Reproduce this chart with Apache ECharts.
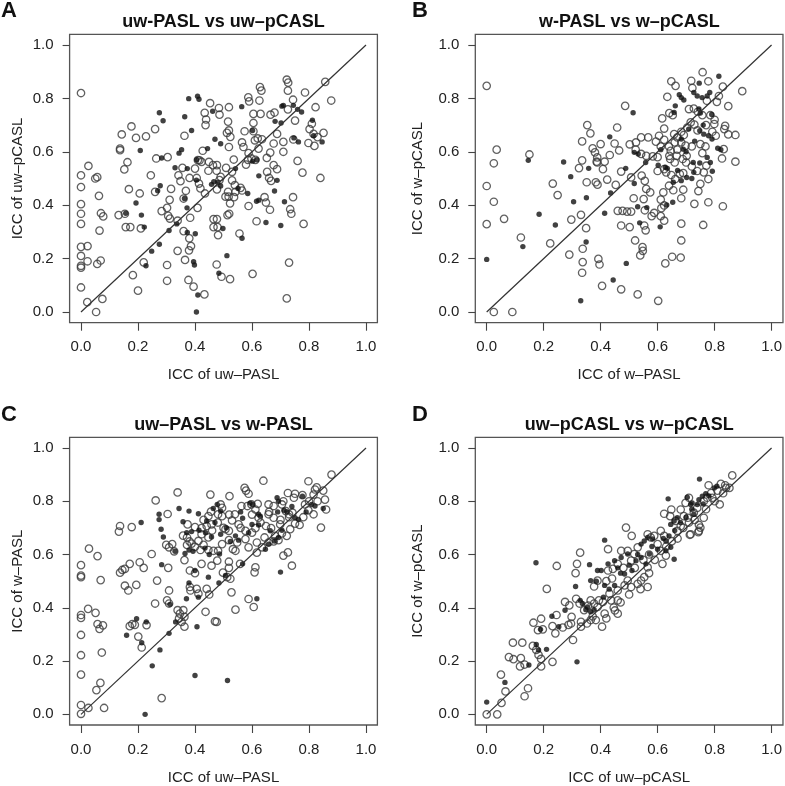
<!DOCTYPE html>
<html>
<head>
<meta charset="utf-8">
<script src="https://cdn.jsdelivr.net/npm/echarts@6/dist/echarts.min.js"></script>
<style>html,body{margin:0;padding:0;background:#fff}#c{width:785px;height:786px}</style>
</head>
<body>
<div id="c"></div>
<script>
const ticks = [0, 0.2, 0.4, 0.6, 0.8, 1.0];
const identityLine = [[0, 0], [1, 1]];
const panelLetters = ['A', 'B', 'C', 'D'];
const panelTitles = ['uw-PASL vs uw\u2013pCASL', 'w-PASL vs w\u2013pCASL', 'uw\u2013PASL vs w-PASL', 'uw\u2013pCASL vs w\u2013pCASL'];
const xNames = ['ICC of uw\u2013PASL', 'ICC of w\u2013PASL', 'ICC of uw\u2013PASL', 'ICC of uw\u2013pCASL'];
const yNames = ['ICC of uw\u2013pCASL', 'ICC of w\u2013pCASL', 'ICC of w\u2013PASL', 'ICC of w\u2013pCASL'];

const aOpen = [[0,0.82],[0.026,0.547],[0,0.512],[0.05,0.50],[0.057,0.505],[0,0.468],[0.063,0.435],[0,0.404],[0,0.368],[0.07,0.37],[0.078,0.358],[0,0.33],[0.065,0.305],[0,0.244],[0.023,0.247],[0,0.21],[0.023,0.19],[0,0.173],[0,0.166],[0.057,0.18],[0.069,0.193],[0,0.092],[0.022,0.037],[0.075,0.049],[0.053,0.0],
[0.143,0.665],[0.177,0.695],[0.137,0.612],[0.137,0.606],[0.193,0.652],[0.228,0.658],[0.26,0.685],[0.163,0.561],[0.152,0.534],[0.245,0.512],[0.264,0.575],[0.304,0.58],[0.168,0.46],[0.206,0.444],[0.132,0.363],[0.154,0.368],[0.157,0.318],[0.173,0.318],[0.21,0.313],[0.26,0.45],[0.316,0.461],[0.311,0.42],[0.302,0.39],[0.283,0.378],[0.306,0.36],[0.312,0.35],[0.339,0.342],[0.22,0.186],[0.182,0.138],[0.2,0.08],[0.302,0.176],[0.302,0.117],[0.339,0.229],
[0.342,0.512],[0.349,0.49],[0.356,0.54],[0.381,0.502],[0.363,0.66],[0.453,0.782],[0.434,0.746],[0.439,0.721],[0.437,0.70],[0.427,0.604],[0.41,0.569],[0.423,0.562],[0.416,0.568],[0.449,0.562],[0.447,0.529],[0.463,0.55],[0.4,0.537],[0.406,0.502],[0.414,0.481],[0.419,0.463],[0.435,0.444],[0.368,0.454],[0.36,0.425],[0.383,0.353],[0.409,0.39],[0.36,0.303],[0.38,0.276],[0.386,0.247],[0.379,0.231],[0.365,0.195],[0.377,0.12],[0.395,0.095],[0.433,0.066],[0.465,0.348],[0.465,0.318],
[0.722,0.87],[0.727,0.859],[0.726,0.829],[0.857,0.862],[0.628,0.842],[0.633,0.829],[0.786,0.822],[0.878,0.792],[0.744,0.795],[0.823,0.767],[0.587,0.804],[0.59,0.789],[0.626,0.792],[0.519,0.767],[0.484,0.764],[0.486,0.739],[0.516,0.713],[0.605,0.742],[0.63,0.742],[0.605,0.708],[0.665,0.739],[0.679,0.747],[0.751,0.717],[0.726,0.759],[0.81,0.705],[0.802,0.685],[0.816,0.667],[0.83,0.655],[0.851,0.671],[0.798,0.633],[0.819,0.622],[0.745,0.646],[0.71,0.637],[0.688,0.667],[0.605,0.677],[0.574,0.677],[0.635,0.647],[0.62,0.65],[0.61,0.643],[0.565,0.635],[0.57,0.618],[0.519,0.68],[0.512,0.671],[0.524,0.656],[0.519,0.618],[0.676,0.631],[0.664,0.597],[0.652,0.577],[0.71,0.6],[0.588,0.595],[0.598,0.575],[0.612,0.57],[0.623,0.612],[0.579,0.552],[0.586,0.57],[0.536,0.571],[0.76,0.566],[0.777,0.522],[0.84,0.502],[0.676,0.55],[0.688,0.535],[0.653,0.525],[0.66,0.502],[0.667,0.491],[0.477,0.55],[0.476,0.529],[0.509,0.54],[0.53,0.525],[0.49,0.506],[0.486,0.494],[0.53,0.493],[0.54,0.475],[0.477,0.459],[0.56,0.465],[0.565,0.455],[0.516,0.45],[0.518,0.432],[0.507,0.432],[0.523,0.407],[0.537,0.43],[0.542,0.45],[0.588,0.397],[0.644,0.43],[0.649,0.41],[0.663,0.383],[0.744,0.43],[0.734,0.385],[0.738,0.368],[0.514,0.363],[0.52,0.368],[0.477,0.348],[0.479,0.318],[0.481,0.288],[0.616,0.34],[0.781,0.33],[0.556,0.294],[0.476,0.178],[0.493,0.132],[0.523,0.123],[0.602,0.143],[0.73,0.185],[0.722,0.051]];
const aFilled = [[0.208,0.605],[0.283,0.577],[0.275,0.746],[0.288,0.716],[0.193,0.408],[0.157,0.37],[0.212,0.363],[0.222,0.318],[0.269,0.454],[0.278,0.473],[0.309,0.305],[0.336,0.33],[0.248,0.228],[0.275,0.254],[0.228,0.173],[0.33,0.54],[0.344,0.595],[0.353,0.608],[0.373,0.537],[0.388,0.68],[0.364,0.731],[0.378,0.799],[0.409,0.808],[0.414,0.797],[0.462,0.752],[0.47,0.647],[0.444,0.612],[0.406,0.57],[0.405,0.494],[0.458,0.478],[0.466,0.488],[0.363,0.425],[0.372,0.39],[0.373,0.298],[0.401,0.293],[0.395,0.188],[0.398,0.176],[0.41,0.064],[0.405,0.0],
[0.564,0.769],[0.705,0.771],[0.71,0.774],[0.681,0.714],[0.702,0.708],[0.745,0.774],[0.76,0.759],[0.774,0.749],[0.812,0.718],[0.816,0.66],[0.846,0.637],[0.747,0.652],[0.763,0.637],[0.602,0.68],[0.49,0.63],[0.602,0.565],[0.617,0.57],[0.624,0.51],[0.688,0.493],[0.679,0.453],[0.542,0.537],[0.551,0.463],[0.585,0.444],[0.616,0.415],[0.624,0.419],[0.714,0.413],[0.498,0.313],[0.649,0.335],[0.701,0.324],[0.565,0.276],[0.512,0.211],[0.484,0.145],[0.48,0.485],[0.49,0.472]];

const bOpen = [[0,0.847],[0.035,0.608],[0.025,0.557],[0,0.472],[0.025,0.413],[0,0.329],[0.061,0.349],[0.025,0],[0.09,0],[0.12,0.279],[0.15,0.59],[0.223,0.257],[0.232,0.481],[0.249,0.438],[0.29,0.215],[0.297,0.346],[0.331,0.364],[0.335,0.639],[0.353,0.7],[0.364,0.669],[0.372,0.613],[0.38,0.598],[0.335,0.568],[0.324,0.539],[0.386,0.563],[0.351,0.486],[0.383,0.486],[0.389,0.477],[0.349,0.314],[0.337,0.237],[0.337,0.187],[0.335,0.147],[0.392,0.199],[0.396,0.178],[0.388,0.579],[0.388,0.56],
[0.758,0.898],[0.648,0.864],[0.663,0.847],[0.718,0.866],[0.722,0.839],[0.778,0.864],[0.829,0.844],[0.897,0.827],[0.634,0.806],[0.773,0.791],[0.808,0.787],[0.815,0.809],[0.848,0.771],[0.486,0.772],[0.653,0.737],[0.641,0.745],[0.616,0.725],[0.727,0.762],[0.741,0.75],[0.757,0.737],[0.785,0.737],[0.716,0.71],[0.729,0.702],[0.704,0.691],[0.683,0.675],[0.692,0.663],[0.623,0.687],[0.658,0.666],[0.458,0.691],[0.799,0.704],[0.837,0.697],[0.834,0.685],[0.848,0.665],[0.873,0.663],[0.792,0.675],[0.804,0.66],[0.832,0.61],[0.75,0.629],[0.768,0.62],[0.669,0.654],[0.683,0.635],[0.698,0.623],[0.66,0.635],[0.669,0.608],[0.646,0.604],[0.641,0.585],[0.605,0.66],[0.594,0.638],[0.567,0.654],[0.542,0.654],[0.524,0.635],[0.502,0.628],[0.523,0.608],[0.542,0.592],[0.56,0.585],[0.583,0.583],[0.611,0.62],[0.623,0.645],[0.449,0.631],[0.465,0.605],[0.432,0.588],[0.408,0.535],[0.4,0.629],[0.423,0.496],[0.453,0.476],[0.472,0.526],[0.6,0.528],[0.623,0.535],[0.644,0.573],[0.667,0.585],[0.688,0.573],[0.702,0.585],[0.63,0.523],[0.648,0.513],[0.662,0.498],[0.678,0.517],[0.64,0.473],[0.655,0.456],[0.72,0.545],[0.739,0.528],[0.762,0.523],[0.757,0.595],[0.771,0.548],[0.826,0.575],[0.873,0.563],[0.778,0.498],[0.743,0.453],[0.778,0.411],[0.829,0.396],[0.729,0.405],[0.76,0.326],[0.683,0.426],[0.69,0.458],[0.62,0.448],[0.611,0.421],[0.623,0.399],[0.613,0.389],[0.683,0.331],[0.683,0.268],[0.651,0.207],[0.681,0.204],[0.627,0.182],[0.602,0.042],[0.53,0.066],[0.472,0.085],[0.405,0.098],[0.547,0.243],[0.548,0.229],[0.539,0.212],[0.521,0.268],[0.553,0.324],[0.558,0.306],[0.472,0.324],[0.502,0.318],[0.46,0.379],[0.477,0.379],[0.493,0.376],[0.507,0.376],[0.516,0.426],[0.551,0.423],[0.555,0.381],[0.579,0.359],[0.588,0.371],[0.611,0.359],[0.623,0.342],[0.544,0.511],[0.555,0.491],[0.56,0.461],[0.574,0.448],[0.507,0.504],[0.414,0.563],
[0.66,0.56],[0.7,0.56],[0.72,0.62],[0.74,0.68],[0.77,0.7],[0.8,0.72],[0.71,0.76],[0.64,0.62],[0.6,0.58],[0.69,0.52],[0.75,0.48]];
const bFilled = [[0,0.197],[0.127,0.245],[0.146,0.568],[0.184,0.366],[0.241,0.326],[0.27,0.562],[0.295,0.507],[0.305,0.413],[0.358,0.538],[0.35,0.428],[0.349,0.262],[0.33,0.042],
[0.815,0.883],[0.746,0.857],[0.676,0.814],[0.683,0.803],[0.692,0.794],[0.727,0.822],[0.739,0.809],[0.756,0.803],[0.774,0.809],[0.783,0.822],[0.514,0.746],[0.662,0.772],[0.658,0.747],[0.745,0.76],[0.75,0.745],[0.709,0.685],[0.748,0.679],[0.762,0.666],[0.779,0.66],[0.791,0.648],[0.811,0.613],[0.822,0.608],[0.683,0.648],[0.69,0.61],[0.518,0.598],[0.532,0.592],[0.611,0.608],[0.432,0.656],[0.488,0.538],[0.558,0.56],[0.602,0.55],[0.627,0.542],[0.634,0.538],[0.655,0.486],[0.683,0.492],[0.702,0.504],[0.725,0.56],[0.727,0.523],[0.748,0.558],[0.774,0.579],[0.785,0.56],[0.792,0.527],[0.653,0.411],[0.632,0.401],[0.444,0.12],[0.49,0.182],[0.537,0.334],[0.609,0.319],[0.414,0.37],[0.53,0.394],[0.562,0.391],[0.518,0.481],[0.435,0.446],
[0.7,0.6],[0.73,0.64],[0.76,0.7],[0.79,0.74],[0.67,0.53],[0.72,0.5]];

const cOpen = [[0.339,0.833],[0.262,0.803],[0.454,0.825],[0.304,0.752],[0.137,0.707],[0.133,0.686],[0.178,0.703],[0.248,0.602],[0.299,0.636],[0.309,0.627],[0.32,0.639],[0.327,0.612],[0.306,0.55],[0.028,0.622],[0.058,0.594],[0,0.56],[0,0.521],[0,0.515],[0.069,0.504],[0.137,0.532],[0.145,0.542],[0.154,0.546],[0.171,0.565],[0.206,0.571],[0.22,0.55],[0.154,0.483],[0.166,0.465],[0.194,0.486],[0.267,0.502],[0.309,0.465],[0.302,0.428],[0.309,0.416],[0.26,0.416],[0.025,0.396],[0,0.373],[0,0.362],[0.051,0.381],[0.058,0.339],[0.065,0.321],[0.077,0.334],[0,0.298],[0,0.222],[0.073,0.232],[0,0.149],[0.068,0.118],[0.054,0.091],[0,0.035],[0.026,0.024],[0,0.002],[0.081,0.024],[0.283,0.061],[0.171,0.331],[0.18,0.339],[0.189,0.336],[0.201,0.292],[0.213,0.251],[0.23,0.335],[0.339,0.391],[0.347,0.378],[0.359,0.391],[0.363,0.366],[0.344,0.36],[0.353,0.347],[0.363,0.329],[0.437,0.385],[0.47,0.349],[0.382,0.478],[0.384,0.465],[0.406,0.471],[0.412,0.453],[0.441,0.471],[0.45,0.45],[0.382,0.54],[0.4,0.53],[0.423,0.565],[0.458,0.558],[0.363,0.579],[0.372,0.636],[0.388,0.641],[0.4,0.629],[0.419,0.617],[0.43,0.636],[0.447,0.617],[0.465,0.614],[0.358,0.671],[0.372,0.664],[0.381,0.649],[0.412,0.651],[0.423,0.676],[0.447,0.664],[0.374,0.713],[0.4,0.703],[0.423,0.699],[0.441,0.707],[0.458,0.713],[0.447,0.744],[0.456,0.761],
[0.64,0.877],[0.879,0.9],[0.798,0.875],[0.574,0.85],[0.579,0.84],[0.588,0.828],[0.521,0.819],[0.726,0.831],[0.751,0.828],[0.747,0.813],[0.777,0.823],[0.821,0.844],[0.827,0.852],[0.816,0.825],[0.85,0.84],[0.856,0.806],[0.86,0.769],[0.786,0.788],[0.798,0.766],[0.816,0.751],[0.842,0.701],[0.767,0.711],[0.751,0.716],[0.742,0.757],[0.73,0.751],[0.719,0.763],[0.705,0.788],[0.676,0.782],[0.658,0.788],[0.612,0.769],[0.598,0.788],[0.563,0.782],[0.584,0.782],[0.49,0.788],[0.495,0.775],[0.481,0.751],[0.495,0.744],[0.53,0.728],[0.54,0.751],[0.519,0.689],[0.507,0.695],[0.553,0.713],[0.577,0.689],[0.6,0.682],[0.612,0.699],[0.623,0.738],[0.658,0.751],[0.676,0.738],[0.649,0.707],[0.667,0.699],[0.681,0.67],[0.705,0.679],[0.722,0.67],[0.734,0.695],[0.699,0.713],[0.644,0.664],[0.617,0.645],[0.588,0.627],[0.577,0.658],[0.548,0.645],[0.519,0.654],[0.495,0.639],[0.481,0.614],[0.635,0.627],[0.658,0.645],[0.676,0.649],[0.693,0.654],[0.617,0.607],[0.71,0.596],[0.726,0.608],[0.74,0.558],[0.612,0.552],[0.609,0.533],[0.588,0.433],[0.606,0.403],[0.528,0.458],[0.542,0.393],[0.476,0.347],[0.558,0.565],[0.519,0.573],[0.519,0.55],[0.498,0.532],[0.513,0.515],[0.524,0.509],[0.533,0.62],[0.542,0.614],[0.478,0.577],
[0.5,0.7],[0.52,0.75],[0.56,0.7],[0.6,0.75],[0.63,0.72],[0.66,0.76],[0.7,0.73],[0.73,0.74],[0.78,0.74],[0.8,0.8],[0.83,0.8],[0.46,0.69],[0.48,0.72],[0.43,0.73],[0.62,0.79],[0.71,0.8]];
const cFilled = [[0.344,0.773],[0.379,0.763],[0.274,0.751],[0.274,0.731],[0.211,0.72],[0.281,0.695],[0.289,0.666],[0.33,0.612],[0.283,0.562],[0.312,0.413],[0.225,0],[0.25,0.182],[0.277,0.242],[0.195,0.359],[0.16,0.297],[0.213,0.269],[0.229,0.347],[0.309,0.304],[0.332,0.347],[0.407,0.329],[0.4,0.146],[0.37,0.434],[0.379,0.493],[0.412,0.44],[0.4,0.54],[0.447,0.515],[0.365,0.604],[0.379,0.617],[0.393,0.612],[0.435,0.624],[0.371,0.682],[0.388,0.686],[0.414,0.691],[0.437,0.682],[0.458,0.666],[0.358,0.723],[0.412,0.753],[0.441,0.726],[0.464,0.773],
[0.688,0.813],[0.693,0.8],[0.777,0.819],[0.809,0.788],[0.821,0.782],[0.85,0.773],[0.751,0.738],[0.763,0.732],[0.712,0.766],[0.722,0.761],[0.629,0.744],[0.623,0.751],[0.593,0.793],[0.602,0.788],[0.567,0.736],[0.478,0.788],[0.49,0.763],[0.542,0.67],[0.588,0.682],[0.6,0.713],[0.623,0.711],[0.664,0.689],[0.693,0.664],[0.705,0.691],[0.679,0.651],[0.553,0.654],[0.524,0.649],[0.49,0.676],[0.647,0.62],[0.658,0.639],[0.7,0.534],[0.617,0.434],[0.514,0.127],[0.567,0.565],[0.507,0.521],[0.484,0.493],[0.486,0.602],
[0.47,0.72],[0.51,0.7],[0.56,0.76],[0.69,0.76],[0.74,0.78],[0.79,0.76],[0.45,0.6]];

const dOpen = [[0,0],[0.037,0],[0.052,0.043],[0.066,0.086],[0.05,0.149],[0.133,0.068],[0.145,0.098],[0.078,0.215],[0.094,0.207],[0.092,0.269],[0.125,0.269],[0.12,0.211],[0.117,0.18],[0.133,0.187],[0.164,0.344],[0.191,0.359],[0.18,0.316],[0.197,0.319],[0.162,0.257],[0.174,0.242],[0.182,0.223],[0.191,0.208],[0.191,0.18],[0.231,0.197],[0.246,0.557],[0.211,0.471],[0.245,0.373],[0.231,0.331],[0.241,0.304],[0.267,0.326],[0.275,0.422],[0.29,0.409],[0.298,0.366],[0.287,0.336],[0.296,0.341],[0.303,0.279],[0.328,0.607],[0.317,0.565],[0.312,0.53],[0.314,0.434],[0.326,0.416],[0.331,0.347],[0.331,0.329],[0.342,0.391],[0.365,0.428],[0.356,0.408],[0.377,0.416],[0.389,0.403],[0.352,0.341],[0.365,0.354],[0.383,0.354],[0.372,0.368],[0.377,0.48],[0.389,0.502],[0.394,0.428],
[0.862,0.897],[0.852,0.85],[0.837,0.86],[0.822,0.865],[0.779,0.86],[0.788,0.831],[0.792,0.813],[0.818,0.788],[0.774,0.813],[0.762,0.8],[0.739,0.775],[0.727,0.757],[0.762,0.738],[0.745,0.711],[0.745,0.689],[0.716,0.676],[0.71,0.813],[0.698,0.794],[0.681,0.769],[0.692,0.744],[0.706,0.738],[0.648,0.769],[0.623,0.753],[0.644,0.744],[0.663,0.726],[0.681,0.707],[0.669,0.689],[0.489,0.701],[0.509,0.67],[0.426,0.62],[0.565,0.676],[0.576,0.664],[0.588,0.67],[0.611,0.689],[0.623,0.67],[0.6,0.639],[0.611,0.614],[0.629,0.596],[0.617,0.565],[0.713,0.674],[0.743,0.684],[0.75,0.701],[0.53,0.627],[0.518,0.602],[0.507,0.577],[0.495,0.614],[0.472,0.614],[0.46,0.565],[0.443,0.546],[0.426,0.54],[0.565,0.552],[0.553,0.515],[0.565,0.478],[0.542,0.502],[0.53,0.49],[0.495,0.502],[0.507,0.478],[0.484,0.484],[0.46,0.465],[0.431,0.453],[0.437,0.428],[0.408,0.422],[0.46,0.428],[0.446,0.401],[0.46,0.378],[0.414,0.378],[0.405,0.329],
[0.42,0.5],[0.44,0.51],[0.48,0.55],[0.52,0.55],[0.55,0.58],[0.57,0.6],[0.59,0.58],[0.63,0.63],[0.65,0.65],[0.67,0.66],[0.69,0.7],[0.71,0.72],[0.73,0.73],[0.77,0.77],[0.8,0.8],[0.83,0.83],[0.84,0.85],[0.81,0.84],[0.5,0.45],[0.54,0.47],[0.45,0.39],[0.42,0.36],[0.47,0.42],[0.57,0.53]];
const dFilled = [[0,0.046],[0.064,0.12],[0.148,0.185],[0.189,0.319],[0.174,0.262],[0.182,0.242],[0.21,0.244],[0.173,0.569],[0.229,0.368],[0.253,0.329],[0.275,0.391],[0.317,0.197],[0.312,0.48],[0.361,0.562],[0.328,0.428],[0.336,0.416],[0.354,0.403],[0.348,0.393],[0.365,0.385],[0.377,0.393],[0.365,0.502],[0.385,0.5],[0.389,0.54],
[0.808,0.856],[0.799,0.85],[0.747,0.883],[0.769,0.828],[0.757,0.819],[0.745,0.806],[0.739,0.788],[0.721,0.794],[0.704,0.815],[0.716,0.788],[0.727,0.751],[0.637,0.809],[0.669,0.738],[0.658,0.726],[0.646,0.713],[0.414,0.654],[0.565,0.664],[0.582,0.658],[0.553,0.651],[0.542,0.639],[0.629,0.651],[0.646,0.627],[0.629,0.614],[0.64,0.67],[0.658,0.582],[0.495,0.602],[0.472,0.589],[0.449,0.577],[0.426,0.565],[0.402,0.54],[0.524,0.577],[0.542,0.589],[0.559,0.565],[0.571,0.602],[0.484,0.527],[0.449,0.484],[0.414,0.484],
[0.46,0.55],[0.47,0.53],[0.5,0.56],[0.51,0.54],[0.53,0.6],[0.58,0.63],[0.6,0.62],[0.62,0.66],[0.66,0.69],[0.68,0.72],[0.7,0.74],[0.72,0.77],[0.76,0.79],[0.78,0.82],[0.41,0.44],[0.43,0.47]];

const openSets = [aOpen, bOpen, cOpen, dOpen];
const filledSets = [aFilled, bFilled, cFilled, dFilled];

const FONT = 'Liberation Sans, Arial, Helvetica, sans-serif';
const grids = [
  {left: 69.6, top: 34.3, width: 307.8, height: 288.4},
  {left: 475.3, top: 34.3, width: 308, height: 288.4},
  {left: 69.6, top: 437.3, width: 307.8, height: 290},
  {left: 475.3, top: 437.3, width: 308, height: 290}
];
const yNameGap = [44, 50, 44, 50];

const option = {
  animation: false,
  backgroundColor: '#fff',
  grid: grids.map(g => Object.assign({show: true, borderColor: '#555', borderWidth: 1.3, backgroundColor: 'transparent', containLabel: false}, g)),
  xAxis: grids.map((g, i) => ({
    gridIndex: i, type: 'value', min: -0.04, max: 1.04, position: 'bottom',
    splitLine: {show: false}, axisLine: {show: false, onZero: false},
    axisTick: {show: true, inside: false, length: 8, customValues: ticks, lineStyle: {color: '#444', width: 1.1}},
    axisLabel: {customValues: ticks, formatter: v => v.toFixed(1), fontSize: 15, margin: 17, color: '#222', fontFamily: FONT},
    name: xNames[i], nameLocation: 'middle', nameGap: 45,
    nameTextStyle: {fontSize: 15, color: '#222', fontFamily: FONT}
  })),
  yAxis: grids.map((g, i) => ({
    gridIndex: i, type: 'value', min: -0.04, max: 1.04, position: 'left',
    splitLine: {show: false}, axisLine: {show: false, onZero: false},
    axisTick: {show: true, inside: false, length: 7, customValues: ticks, lineStyle: {color: '#444', width: 1.1}},
    axisLabel: {customValues: ticks, formatter: v => v.toFixed(1), fontSize: 15, margin: 16, color: '#222', fontFamily: FONT},
    name: yNames[i], nameLocation: 'middle', nameGap: yNameGap[i],
    nameTextStyle: {fontSize: 15, color: '#222', fontFamily: FONT}
  })),
  series: [],
  graphic: []
};

for (let i = 0; i < 4; i++) {
  option.series.push({
    type: 'scatter', xAxisIndex: i, yAxisIndex: i, data: openSets[i], silent: true, clip: false,
    symbol: 'circle', symbolSize: 7.4,
    itemStyle: {color: 'rgba(0,0,0,0)', borderColor: '#3a3a3a', borderWidth: 1.3}
  });
  option.series.push({
    type: 'scatter', xAxisIndex: i, yAxisIndex: i, data: filledSets[i], silent: true, clip: false,
    symbol: 'circle', symbolSize: 5.4,
    itemStyle: {color: '#111', borderWidth: 0}
  });
  option.series.push({
    type: 'line', xAxisIndex: i, yAxisIndex: i, data: identityLine, silent: true,
    symbol: 'none', lineStyle: {color: '#333', width: 1.2}, z: 5
  });
  const g = grids[i];
  const cx = g.left + g.width / 2;
  const ty = i < 2 ? 22 : 425;
  option.graphic.push({
    type: 'text', x: cx, y: ty, silent: true,
    style: {text: panelTitles[i], font: 'bold 18px ' + FONT, fill: '#111', align: 'center', verticalAlign: 'middle', textAlign: 'center', textVerticalAlign: 'middle'}
  });
  option.graphic.push({
    type: 'text', x: i % 2 === 0 ? 9 : 420, y: i < 2 ? 11 : 415, silent: true,
    style: {text: panelLetters[i], font: 'bold 22px ' + FONT, fill: '#111', align: 'center', verticalAlign: 'middle', textAlign: 'center', textVerticalAlign: 'middle'}
  });
}

const chart = echarts.init(document.getElementById('c'), null, {renderer: 'canvas'});
chart.setOption(option);
</script>
</body>
</html>
